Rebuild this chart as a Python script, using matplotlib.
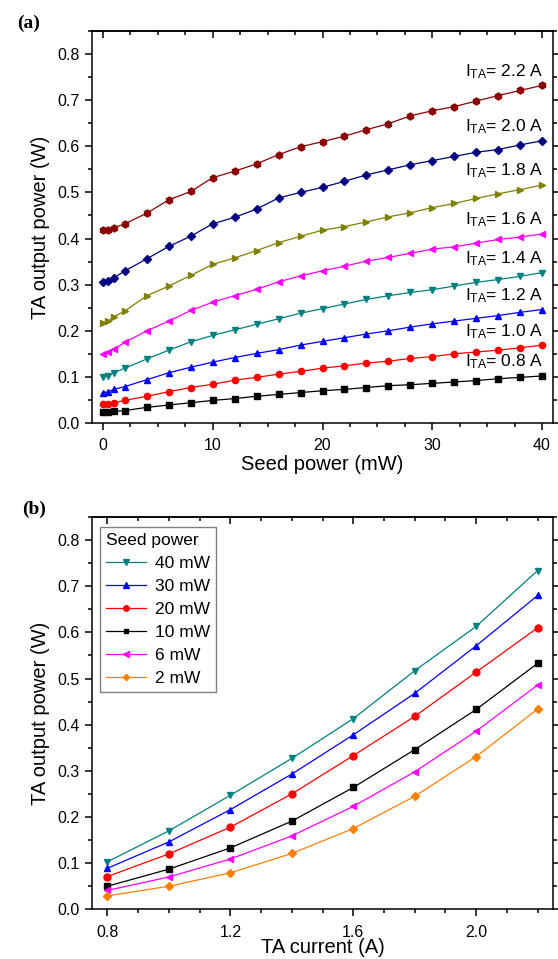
import matplotlib
matplotlib.use('Agg')
import matplotlib.pyplot as plt
from matplotlib.ticker import MultipleLocator, NullFormatter

plt.rcParams['font.family'] = ['Liberation Sans', 'DejaVu Sans']
plt.rcParams['mathtext.fontset'] = 'custom'
plt.rcParams['mathtext.rm'] = 'Liberation Sans'

# (a) output power vs seed power, one curve per TA current
seed_mw = [0, 0.5, 1, 2, 4, 6, 8, 10, 12, 14, 16, 18, 20, 22, 24, 26, 28, 30, 32, 34, 36, 38, 40]
p_08 = [0.023, 0.024, 0.025, 0.027, 0.034, 0.039, 0.044, 0.049, 0.053, 0.058, 0.062,
        0.066, 0.070, 0.073, 0.077, 0.081, 0.083, 0.086, 0.089, 0.092, 0.096, 0.099, 0.102]
p_10 = [0.041, 0.042, 0.044, 0.049, 0.058, 0.068, 0.077, 0.084, 0.093, 0.099, 0.106,
        0.112, 0.119, 0.124, 0.130, 0.134, 0.140, 0.144, 0.150, 0.154, 0.158, 0.163, 0.169]
p_12 = [0.066, 0.068, 0.073, 0.079, 0.094, 0.109, 0.121, 0.132, 0.142, 0.151, 0.159,
        0.169, 0.177, 0.185, 0.193, 0.200, 0.208, 0.215, 0.221, 0.227, 0.233, 0.240, 0.246]
p_14 = [0.099, 0.103, 0.109, 0.119, 0.139, 0.158, 0.176, 0.190, 0.202, 0.214, 0.226,
        0.238, 0.248, 0.258, 0.268, 0.276, 0.283, 0.289, 0.297, 0.305, 0.311, 0.318, 0.326]
p_16 = [0.150, 0.155, 0.160, 0.175, 0.200, 0.221, 0.244, 0.262, 0.276, 0.290, 0.306,
        0.319, 0.330, 0.340, 0.351, 0.359, 0.368, 0.377, 0.382, 0.390, 0.398, 0.403, 0.410]
p_18 = [0.217, 0.221, 0.230, 0.243, 0.276, 0.297, 0.320, 0.344, 0.358, 0.374, 0.391,
        0.405, 0.418, 0.426, 0.436, 0.447, 0.456, 0.467, 0.476, 0.487, 0.497, 0.506, 0.516]
p_20 = [0.305, 0.307, 0.315, 0.330, 0.356, 0.383, 0.405, 0.432, 0.446, 0.464, 0.488,
        0.500, 0.511, 0.524, 0.538, 0.549, 0.560, 0.569, 0.578, 0.587, 0.593, 0.603, 0.612]
p_22 = [0.419, 0.419, 0.423, 0.432, 0.455, 0.484, 0.502, 0.532, 0.546, 0.562, 0.582,
        0.599, 0.610, 0.622, 0.636, 0.649, 0.666, 0.677, 0.686, 0.698, 0.710, 0.721, 0.732]
currents_a = ['0.8', '1.0', '1.2', '1.4', '1.6', '1.8', '2.0', '2.2']

# (b) output power vs TA current, one curve per seed power
ta_current = [0.8, 1.0, 1.2, 1.4, 1.6, 1.8, 2.0, 2.2]
s40 = [0.103, 0.170, 0.247, 0.327, 0.413, 0.517, 0.613, 0.734]
s30 = [0.089, 0.146, 0.216, 0.293, 0.378, 0.468, 0.571, 0.680]
s20 = [0.071, 0.120, 0.178, 0.250, 0.333, 0.418, 0.514, 0.610]
s10 = [0.050, 0.087, 0.133, 0.191, 0.264, 0.346, 0.433, 0.533]
s6 = [0.041, 0.070, 0.109, 0.159, 0.223, 0.298, 0.386, 0.486]
s2 = [0.029, 0.050, 0.079, 0.121, 0.175, 0.245, 0.331, 0.434]
seed_labels = ['40 mW', '30 mW', '20 mW', '10 mW', '6 mW', '2 mW']

fig = plt.figure(figsize=(5.58, 9.59), dpi=100)
ax1 = fig.add_axes([0.1649, 0.5589, 0.8262, 0.4088])
ax2 = fig.add_axes([0.1649, 0.0518, 0.8262, 0.4091])


def style_axes(ax, xmaj, xmin):
    ax.set_ylim(0, 0.85)
    ax.yaxis.set_major_locator(MultipleLocator(0.1))
    ax.yaxis.set_minor_locator(MultipleLocator(0.05))
    ax.xaxis.set_major_locator(MultipleLocator(xmaj))
    ax.xaxis.set_minor_locator(MultipleLocator(xmin))
    ax.tick_params(which='both', direction='out', labelsize=11.5, width=1.1,
                   right=True, pad=4)
    ax.tick_params(axis='x', pad=6)
    ax.tick_params(which='major', length=5)
    ax.tick_params(which='minor', length=3)
    ax.tick_params(axis='y', which='both', labelright=False)
    for s in ax.spines.values():
        s.set_linewidth(1.1)
    top = ax.secondary_xaxis('top')
    top.xaxis.set_major_locator(MultipleLocator(xmaj))
    top.xaxis.set_minor_locator(MultipleLocator(xmin))
    top.xaxis.set_major_formatter(NullFormatter())
    top.tick_params(which='both', direction='in', width=1.1)
    top.tick_params(which='major', length=5)
    top.tick_params(which='minor', length=3)
    top.spines['top'].set_linewidth(1.1)


# ---- panel (a)
series_a = [p_08, p_10, p_12, p_14, p_16, p_18, p_20, p_22]
colors_a = ['black', '#FF0000', '#0000FF', '#008080', '#FF00FF', '#808000', '#000080', '#8B0000']
markers_a = ['s', 'o', '^', 'v', '<', '>', 'D', 'h']
sizes_a = [4, 4.5, 5, 5, 5, 5, 4, 5]
for y, c, m, ms, cur in zip(series_a, colors_a, markers_a, sizes_a, currents_a):
    ax1.plot(seed_mw, y, color=c, marker=m, markersize=ms, linewidth=0.9)
    ax1.annotate('$\\mathregular{I_{TA}}$= ' + cur + ' A', xy=(seed_mw[-1], y[-1]),
                 xytext=(1, 10), textcoords='offset points', ha='right', va='center',
                 fontsize=12.5)

ax1.set_xlim(-1, 41)
style_axes(ax1, 10, 2.5)
ax1.set_xlabel('Seed power (mW)', fontsize=14.5, labelpad=1)
ax1.set_ylabel('TA output power (W)', fontsize=14.5, labelpad=5)
fig.text(0.03, 0.976, '(a)', fontsize=14, fontweight='bold', family='Liberation Serif',
         va='center')

# ---- panel (b)
series_b = [s40, s30, s20, s10, s6, s2]
colors_b = ['#008080', '#0000FF', '#FF0000', 'black', '#FF00FF', '#FF8000']
markers_b = ['v', '^', 'o', 's', '<', 'D']
sizes_b = [5, 5, 5, 4, 5, 4]
for y, c, m, ms, lab in zip(series_b, colors_b, markers_b, sizes_b, seed_labels):
    ax2.plot(ta_current, y, color=c, marker=m, markersize=ms, linewidth=0.9, label=lab)

ax2.set_xlim(0.75, 2.25)
style_axes(ax2, 0.4, 0.1)
ax2.xaxis.set_major_formatter(plt.FormatStrFormatter('%.1f'))
ax2.set_xlabel('TA current (A)', fontsize=14.5, labelpad=-1)
ax2.set_ylabel('TA output power (W)', fontsize=14.5, labelpad=5)
leg = ax2.legend(title='Seed power', loc='upper left', bbox_to_anchor=(0.017, 0.975),
                 borderaxespad=0, fontsize=12.5, title_fontsize=12.5, fancybox=False,
                 edgecolor='#808080', framealpha=1, handlelength=2.3, labelspacing=0.45,
                 markerscale=0.8, borderpad=0.35, handletextpad=0.5)
leg._legend_box.align = 'left'
leg.get_frame().set_linewidth(1.0)
fig.text(0.04, 0.469, '(b)', fontsize=14, fontweight='bold', family='Liberation Serif',
         va='center')

fig.savefig('out.png', dpi=100)
